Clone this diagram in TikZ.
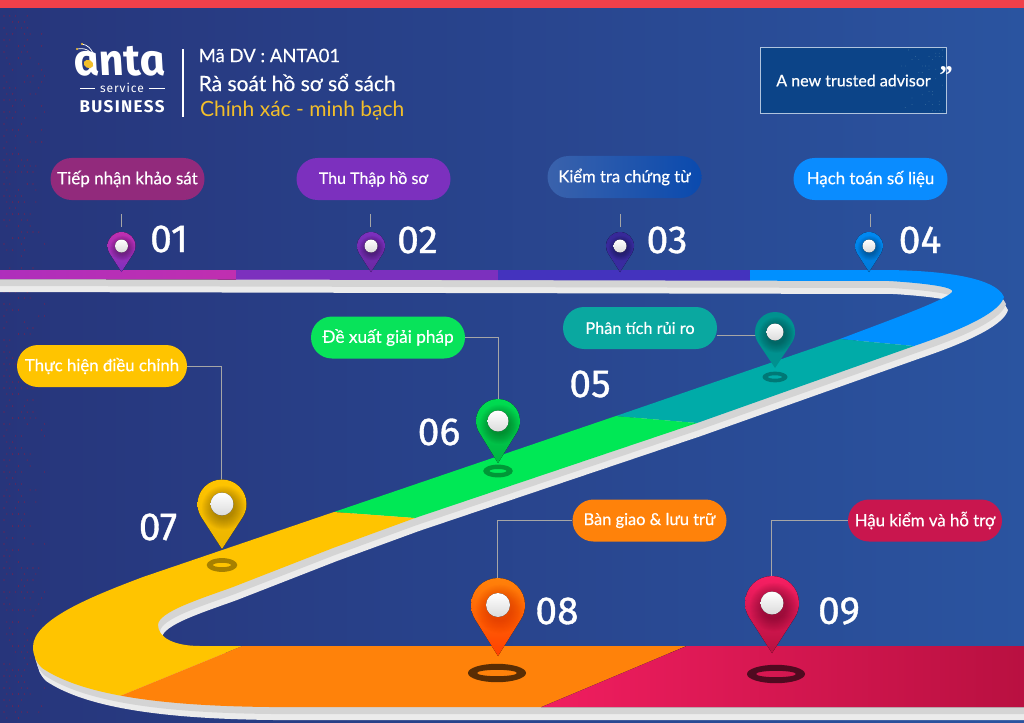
\documentclass[tikz,border=0pt]{standalone}
\usepackage{fontspec}
\usetikzlibrary{shapes.misc,calc}
\setmainfont{Lato}
\newfontfamily\labelfont{Lato}[UprightFeatures={FakeBold=0.45}]
\newfontfamily\numfont{Fira Sans}[UprightFeatures={FakeBold=0.9}]
\newfontfamily\logofont{Fira Sans}[BoldItalicFeatures={FakeSlant=-0.2},ItalicFeatures={FakeSlant=-0.2}]
\newfontfamily\capsfont{Fira Sans}[LetterSpace=8]
\newfontfamily\quotefont{Liberation Serif}

% palette
\definecolor{bgL}{HTML}{27357B}
\definecolor{bgR}{HTML}{2A54A0}
\definecolor{topbar}{HTML}{F0404A}
\definecolor{grayA}{HTML}{D4D4D4}
\definecolor{grayB}{HTML}{EBEBEB}
\definecolor{segMagA}{HTML}{AE2FBC}
\definecolor{segMagB}{HTML}{C02FB0}
\definecolor{segPurple}{HTML}{7C30BE}
\definecolor{segIndigo}{HTML}{4433BE}
\definecolor{segBlue}{HTML}{0090FF}
\definecolor{segTeal}{HTML}{00ABA8}
\definecolor{segGreen}{HTML}{00E855}
\definecolor{segYellow}{HTML}{FFC400}
\definecolor{segOrange}{HTML}{FF820A}
\definecolor{segRedA}{HTML}{F71F63}
\definecolor{segRedB}{HTML}{E61B5C}
\definecolor{segRedC}{HTML}{B81040}
\definecolor{gold}{HTML}{F2BE2A}
\definecolor{slogancol}{HTML}{0C4488}

\tikzset{
  pill/.style={shape=rounded rectangle,minimum width=154pt,minimum height=42pt,inner sep=0pt,
    text=white},
  labsize/.style={font=\labelfont\fontsize{#1}{20}\selectfont},
  numlabel/.style={text=white,font=\numfont\fontsize{39}{42}\selectfont,inner sep=0pt},
  headline/.style={text=white,anchor=west,inner sep=0pt},
  leader/.style={draw=gray!70!white,line width=.9pt},
  ballfill/.style={top color=white,bottom color=black!14},
}

% teardrop marker: centre x, centre y, head radius, tip distance, ball radius, fill options, shade colour
\newcommand{\mappin}[7]{%
  \pgfmathsetmacro\bb{asin(#3/#4)}%
  \pgfmathsetmacro\pcx{cos(\bb)}%
  \pgfmathsetmacro\pcy{sin(\bb)}%
  \pgfmathsetmacro\kk{4/3*tan(\bb/4)}%
  \pgfmathsetmacro\cbx{\pcx+\kk*\pcy}%
  \pgfmathsetmacro\cay{\pcy-\kk*\pcx}%
  \pgfmathsetmacro\dn{#4/#3}%
  \pgfmathsetmacro\br{#5/#3}%
  \begin{scope}[shift={(#1,#2)},scale=#3]
    \fill[#6] (0,\dn) -- (-\pcx,\pcy) .. controls (-\cbx,\cay) and (-1,\kk) .. (-1,0)
      .. controls (-1,-0.5523) and (-0.5523,-1) .. (0,-1)
      .. controls (0.5523,-1) and (1,-0.5523) .. (1,0)
      .. controls (1,\kk) and (\cbx,\cay) .. (\pcx,\pcy) -- cycle;
    \foreach \rr in {0.90,0.86,...,0.45}{
      \fill[#7,opacity=.022] (0.07,0.15) circle (\rr);
    }
    \fill[ballfill] (0,0) circle (\br);
  \end{scope}%
}

% flat ground ring: x, y, outer radii, inner radii, colour
\newcommand{\groundring}[7]{%
  \fill[#7,even odd rule] (#1,#2) ellipse [x radius=#3,y radius=#4]
    (#1,#2) ellipse [x radius=#5,y radius=#6];%
}

\def\roadpath{(-5,270) -- (880,270)
  .. controls (935,270) and (995,276) .. (1004,297)
  .. controls (1000,311) and (970,327) .. (914,346)
  -- (697,423) -- (415,518) -- (333,548) -- (233,587)
  .. controls (200,599) and (158,612) .. (158,625)
  .. controls (158,638) and (175,646) .. (200,646)
  -- (1030,646) -- (1030,707) -- (270,707)
  .. controls (170,706) and (85,697) .. (42,668)
  .. controls (36,662) and (33,655) .. (33,647)
  .. controls (33,620) and (90,597) .. (143,577)
  -- (334,512) -- (616,416) -- (840,339)
  .. controls (890,320) and (946,300) .. (952,292)
  .. controls (955,288) and (935,284) .. (890,281)
  -- (-5,279) -- cycle}

\begin{document}
\begin{tikzpicture}[x=1pt,y=-1pt]
\useasboundingbox (0,0) rectangle (1024,722);
\clip (0,0) rectangle (1024,722);

% backdrop
\fill[left color=bgL,right color=bgR] (0,0) rectangle (1024,722);
\fill[topbar] (0,0) rectangle (1024,8);

% dotted texture along the left margin
\pgfmathsetseed{4127}
\foreach \i in {0,...,7}{
  \foreach \j in {0,...,118}{
    \pgfmathsetmacro\keep{rnd>(\i+2)/10 ? 1 : 0}
    \ifdim\keep pt>0.5pt
      \fill[red!55!bgL] ({4+5.8*\i+mod(\j,2)*2.9},{16+6*\j}) circle (0.55);
    \fi
  }
}

% road side walls
\fill[grayB,xshift=4pt,yshift=-13pt] \roadpath;
\fill[grayA,xshift=2pt,yshift=-7pt] \roadpath;

% coloured road segments
\begin{scope}
  \clip \roadpath;
  \fill[left color=segMagA,right color=segMagB] (-5,260) rectangle (236,300);
  \fill[segPurple] (236,260) rectangle (498,300);
  \fill[segIndigo] (498,260) rectangle (750,300);
  \fill[segBlue] (750,260) -- (1030,260) -- (1030,352) -- (914,346) -- (840,339) -- (750,300) -- cycle;
  \fill[segTeal] (800,335.2) -- (960,350.4) -- (740,426.7) -- (580,413) -- cycle;
  \fill[segGreen] (580,413) -- (740,426.7) -- (455,521) -- (300,509.5) -- cycle;
  \fill[segYellow] (300,509.5) -- (455,521) -- (257,640) -- (37,730) -- (0,730) -- (0,500) -- cycle;
  \fill[segOrange] (257,640) -- (701,640) -- (487,730) -- (37,730) -- cycle;
  \fill[left color=segRedA,middle color=segRedB,right color=segRedC]
    (701,640) -- (1030,640) -- (1030,730) -- (487,730) -- cycle;
\end{scope}

% ground rings under the large markers
\groundring{775}{377}{12.5}{5.4}{7}{1.7}{black!30!segTeal}
\groundring{498}{471}{14.8}{6.4}{8.5}{2}{black!35!segGreen}
\groundring{222}{565}{15.3}{6.9}{9}{2.2}{black!35!segYellow}
\groundring{497}{673}{29}{9.2}{20}{3.2}{black!65!segOrange}
\groundring{776}{674}{29}{9.2}{20}{3.2}{black!68!segRedA}

% anchor points of the leader lines
\coordinate (stub1) at (121,214);
\coordinate (stub2) at (370,214);
\coordinate (stub3) at (620,214);
\coordinate (stub4) at (870,214);
\coordinate (top1) at (121,227);
\coordinate (top2) at (370,227);
\coordinate (top3) at (620,227);
\coordinate (top4) at (870,227);
\coordinate (side5) at (756,335);
\coordinate (top6) at (498,399);
\coordinate (top7) at (221,481);
\coordinate (top8) at (497,579);
\coordinate (top9) at (771,577);

% call-out pills
\node[pill,labsize=17,fill={rgb,255:red,146;green,42;blue,124}] (pill1) at (127.5,179) {Tiếp nhận khảo sát};
\node[pill,labsize=16,fill=segPurple] (pill2) at (373.5,179) {Thu Thập hồ sơ};
\node[pill,labsize=16.6,left color={rgb,255:red,58;green,98;blue,172},right color={rgb,255:red,10;green,74;blue,174}] (pill3) at (624.5,177) {Kiểm tra chứng từ};
\node[pill,labsize=16.8,fill={rgb,255:red,10;green,140;blue,255}] (pill4) at (870.5,179) {Hạch toán số liệu};
\node[pill,labsize=16.3,fill={rgb,255:red,10;green,168;blue,160}] (pill5) at (640,328) {Phân tích rủi ro};
\node[pill,labsize=17.2,fill={rgb,255:red,8;green,227;blue,90}] (pill6) at (388,337.5) {Đề xuất giải pháp};
\node[pill,labsize=16.8,minimum width=170pt,fill=segYellow] (pill7) at (102,366) {Thực hiện điều chỉnh};
\node[pill,labsize=16.4,fill=segOrange] (pill8) at (649.5,520.5) {Bàn giao \& lưu trữ};
\node[pill,labsize=16.8,fill={rgb,255:red,201;green,22;blue,78}] (pill9) at (925,520.5) {Hậu kiểm và hỗ trợ};

% leader lines
\draw[leader] (stub1) -- (top1);
\draw[leader] (stub2) -- (top2);
\draw[leader] (stub3) -- (top3);
\draw[leader] (stub4) -- (top4);
\draw[leader] (side5 -| pill5.east) -- (side5);
\draw[leader] (pill6.east) -| (top6);
\draw[leader] (pill7.east) -| (top7);
\draw[leader] (pill8.west) -| (top8);
\draw[leader] (pill9.west) -| (top9);

% markers
\mappin{121.5}{246}{14}{26}{6.5}{top color=segMagB,bottom color=segPurple}{black}
\mappin{371}{246}{14}{26}{6.5}{top color=segPurple,bottom color=segPurple!85!black}{black}
\mappin{620}{246}{14}{26}{6.5}{top color=segIndigo!80!black,bottom color=segIndigo!85!black}{black}
\mappin{869}{246}{14}{26}{6.5}{top color=segBlue!95!black,bottom color=segBlue!85!black}{black}
\mappin{775}{332}{20}{36}{8.5}{fill=segTeal!85!black}{black}
\mappin{498}{421}{22}{42}{10.5}{top color=segGreen!95!black,bottom color=segGreen!78!black}{black}
\mappin{222}{504}{24.5}{45}{11.5}{top color=segYellow,bottom color=segYellow!92!black}{black}
\mappin{498}{605}{27}{51}{12}{top color=segOrange,bottom color=orange!50!red}{red!70!black}
\mappin{772}{603}{27}{50}{11.5}{top color=segRedA,bottom color=segRedC}{black}

% step numbers
\node[numlabel] (num1) at (169,239) {01};
\node[numlabel] (num2) at (417.5,240) {02};
\node[numlabel] (num3) at (667,240) {03};
\node[numlabel] (num4) at (920,240) {04};
\node[numlabel] (num5) at (590,384) {05};
\node[numlabel] (num6) at (439,432) {06};
\node[numlabel] (num7) at (158,527) {07};
\node[numlabel] (num8) at (557,611) {08};
\node[numlabel] (num9) at (839,611) {09};

% brand mark
\node[text=white,inner sep=0pt,anchor=base,font=\logofont\bfseries\itshape\fontsize{44}{46}\selectfont] (brand) at (122,76) {anta};
\fill[gold,rotate around={-25:(88.5,64)}] (88.5,64) ellipse [x radius=5,y radius=4];
\draw[white,line width=.7pt] (82,44) .. controls (88,45) and (91,49) .. (93,53);
\draw[white,line width=.7pt] (77,49) .. controls (83,48) and (87,49) .. (90,52);
\fill[gold] (82,44) circle (1.1);
\fill[gold] (77,49) circle (1.1);
\node[text=white,inner sep=0pt,font=\capsfont\fontsize{12}{14}\selectfont] (svc) at (122,88) {service};
\coordinate (ruleA) at (80,88);
\coordinate (ruleB) at (165,88);
\draw[white,line width=.7pt] (ruleA) -- ($(svc.west)+(-5,0)$);
\draw[white,line width=.7pt] ($(svc.east)+(5,0)$) -- (ruleB);
\node[text=white,inner sep=0pt,font=\capsfont\fontsize{17}{20}\selectfont\bfseries] (biz) at (122,107) {BUSINESS};
\coordinate (divA) at (183,49);
\coordinate (divB) at (183,117);
\draw[white,line width=2pt] (divA) -- (divB);

% headline block
\node[headline,labsize=18.5] (h1) at (198.5,55.5) {Mã DV : ANTA01};
\node[headline,labsize=21] (h2) at (198.5,82.5) {Rà soát hồ sơ sổ sách};
\node[headline,text=gold,font=\fontsize{21}{24}\selectfont] (h3) at (200,111) {Chính xác - minh bạch};

% slogan box
\node[draw={rgb,255:red,176;green,196;blue,222},line width=1pt,fill=slogancol,
  minimum width=186pt,minimum height=66pt,inner sep=0pt] (slogan) at (853.5,80.5) {};
\pgfmathsetseed{913}
\foreach \i in {0,...,14}{
  \foreach \j in {0,...,19}{
    \pgfmathsetmacro\keep{(rnd<0.7*(\i/18)*abs(\j-9.5)/9.5) ? 1 : 0}
    \ifdim\keep pt>0.5pt
      \fill[cyan!30!slogancol] ({895+3.4*\i},{50+3.2*\j}) circle (0.4);
    \fi
  }
}
\node[text=white,inner sep=0pt,labsize=16] (sloganText) at (slogan.center) {A new trusted advisor};
\node[text=white,inner sep=0pt,font=\quotefont\bfseries\fontsize{27}{27}\selectfont] (quote) at (946,76) {”};
\end{tikzpicture}
\end{document}
